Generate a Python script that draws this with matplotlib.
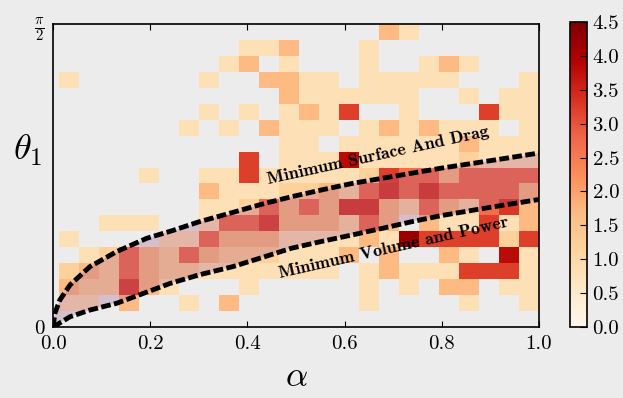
import numpy as np
import matplotlib
matplotlib.use('Agg')
import matplotlib.pyplot as plt

plt.rcParams['font.family'] = 'cmr10'
plt.rcParams['mathtext.fontset'] = 'cm'
plt.rcParams['axes.formatter.use_mathtext'] = True

# Histogram counts (log scale), top row is theta = pi/2.
counts = [
    [0, 0, 0, 0, 0, 0, 0, 0, 0, 0, 0, 0, 0, 0, 0, 0, 1.7, .8, 0, 0, 0, 0, 0, 0],
    [0, 0, 0, 0, 0, 0, 0, 0, 0, .8, .8, 1.7, 0, 0, 0, .8, 0, 0, 0, 0, 0, 0, 0, 0],
    [0, 0, 0, 0, 0, 0, 0, 0, .8, 1.7, 0, .8, 0, 0, 0, .8, 0, 0, .8, 1.7, .8, 0, 0, 0],
    [.8, 0, 0, 0, 0, 0, 0, .8, 0, 0, 1.7, 1.7, .8, .8, 0, .8, .8, .8, .8, .8, 0, 0, 0, .8],
    [0, 0, 0, 0, 0, 0, 0, 0, 0, 0, 0, 1.7, .8, .8, .8, .8, .8, .8, 0, 0, .8, 0, .8, .8],
    [0, 0, 0, 0, 0, 0, 0, .8, 0, .8, 0, .8, 1.7, .8, 3.2, 0, 0, .8, 0, 0, 0, 3.2, .8, .8],
    [0, 0, 0, 0, 0, 0, .8, 0, .8, 0, 1.7, .8, .8, .8, 0, .8, 1.7, .8, 1.7, .8, .8, .8, 0, .8],
    [0, 0, 0, 0, 0, 0, 0, 0, 0, 0, 0, .8, .8, 0, .8, .8, .8, .8, .8, .8, 1.7, .8, .8, .8],
    [0, 0, 0, 0, 0, 0, 0, 0, 0, 3.2, 0, .8, .8, .8, 3.8, .8, .8, .8, .8, .8, 1.2, .8, .8, .8],
    [0, 0, 0, 0, .8, 0, 0, .8, .8, 3.2, .8, .8, .8, .8, .8, 1.2, 3.2, 2.7, 2.7, 1.7, 2.7, 2.7, 2.7, 2.7],
    [0, 0, 0, 0, 0, 0, 0, 1.7, .8, .8, .8, 1.2, 1.2, 1.7, 1.0, 2.7, 3.3, 2.7, 3.3, 2.7, 2.7, 2.7, 2.7, 1.7],
    [0, 0, 0, 0, 0, 0, 0, .8, .8, 1.2, 2.7, 1.7, 2.7, 1.7, 3.3, 3.3, 1.7, 1.0, 2.7, 1.7, 1.0, 2.7, 3.3, 1.7],
    [0, 0, .8, .8, .8, 0, 0, .8, 2.7, 2.7, 3.2, 1.7, 1.7, 1.7, 1.0, 2.7, 1.7, 0, 1.7, .8, .8, 3.2, .8, 1.7],
    [.8, 0, 0, 0, 0, .8, .8, 2.7, 1.7, 1.7, 1.7, .8, .8, .8, .8, 1.7, .8, 4.2, 3.2, 3.2, 3.2, 3.2, 1.2, 3.2],
    [0, .8, 1.2, 2.7, 1.7, 1.2, 2.7, 1.7, 1.2, 1.2, 1.2, .8, .8, .8, 1.7, 0, 1.7, 0, 0, 1.7, .8, 0, 3.8, .8],
    [1.2, 1.7, 1.2, 2.7, 1.7, 1.2, 1.2, .8, .8, .8, .8, .8, .8, .8, 0, .8, 1.7, .8, .8, .8, 3.2, 3.2, 3.2, .8],
    [1.7, 1.2, 1.2, 3.2, 1.7, .8, 0, 0, 0, .8, 0, 0, 0, 0, 0, .8, 0, .8, 0, 1.7, 1.7, 0, .8, .8],
    [.8, .8, 0, 1.7, 0, 0, .8, 0, 1.7, 0, 0, 0, 0, 0, 0, .8, 0, 0, 0, 0, .8, 0, 0, .8],
    [0, 0, 0, 0, 0, 0, 0, 0, 0, 0, 0, 0, 0, 0, 0, 0, 0, 0, 0, 0, 0, 0, 0, 0],
]
alpha_edges = np.linspace(0.0125, 1.0, 25)
theta_edges = np.linspace(0, np.pi / 2, 20)

# Bounding curves
upper_alpha = [0, 0.004, 0.014, 0.035, 0.076, 0.131, 0.193, 0.246, 0.30, 0.37, 0.43, 0.49, 0.555, 0.617, 0.68, 0.74, 0.80, 0.868, 0.935, 1.0]
upper_theta = [0, 0.072, 0.14, 0.218, 0.313, 0.391, 0.46, 0.50, 0.545, 0.594, 0.637, 0.675, 0.712, 0.745, 0.772, 0.798, 0.824, 0.85, 0.876, 0.902]
lower_alpha = [0, 0.035, 0.076, 0.131, 0.19, 0.241, 0.30, 0.37, 0.43, 0.49, 0.555, 0.617, 0.68, 0.74, 0.80, 0.87, 0.935, 1.0]
lower_theta = [0, 0.053, 0.088, 0.123, 0.178, 0.226, 0.27, 0.313, 0.36, 0.408, 0.445, 0.478, 0.513, 0.547, 0.578, 0.608, 0.635, 0.661]

bg = '#ececec'
fig = plt.figure(figsize=(6.23, 3.98), dpi=100, facecolor=bg)
ax = fig.add_axes([0.0851, 0.1784, 0.7801, 0.7613], facecolor=bg)
cax = fig.add_axes([0.9149, 0.1784, 0.0273, 0.7663])

grid = np.ma.masked_equal(np.array(counts)[::-1], 0)
mesh = ax.pcolormesh(alpha_edges, theta_edges, grid, cmap='OrRd', vmin=0, vmax=4.5)

poly_x = upper_alpha + lower_alpha[::-1]
poly_y = upper_theta + lower_theta[::-1]
ax.fill(poly_x, poly_y, color='#a04c80', alpha=0.28, lw=0)

for xs, ys in [(upper_alpha, upper_theta), (lower_alpha, lower_theta)]:
    ax.plot(xs, ys, color='black', lw=3.5, dashes=(2.0, 0.7), dash_capstyle='butt')

ax.text(0.669, 0.888, 'Minimum Surface And Drag', family='cmb10', fontsize=13,
        rotation=12.3, rotation_mode='anchor', ha='center', va='center')
ax.text(0.700, 0.412, 'Minimum Volume and Power', family='cmb10', fontsize=13,
        rotation=12.7, rotation_mode='anchor', ha='center', va='center')

ax.set_xlim(0, 1)
ax.set_ylim(0, np.pi / 2)
ax.set_xticks([0, 0.2, 0.4, 0.6, 0.8, 1.0])
ax.set_xticklabels(['0.0', '0.2', '0.4', '0.6', '0.8', '1.0'])
ax.set_yticks([0, np.pi / 2])
ax.set_yticklabels(['0', r'$\frac{\pi}{2}$'])
ax.tick_params(axis='x', direction='in', top=True, length=4, labelsize=15, pad=6)
ax.tick_params(axis='y', direction='in', length=0, labelsize=15, pad=6)
for s in ax.spines.values():
    s.set_linewidth(1.2)

ax.set_xlabel(r'$\alpha$', fontsize=25, labelpad=6)
ax.set_ylabel(r'$\theta_1$', fontsize=26, rotation=0, va='center', ha='center')
ax.yaxis.set_label_coords(-0.052, 0.584)

cb = fig.colorbar(mesh, cax=cax, ticks=np.arange(0, 4.51, 0.5))
cb.ax.set_yticklabels(['%.1f' % t for t in np.arange(0, 4.51, 0.5)])
cb.ax.tick_params(direction='in', length=5, labelsize=15, pad=4)
cb.outline.set_linewidth(1.2)

plt.savefig('out.png', dpi=100, facecolor=bg)
